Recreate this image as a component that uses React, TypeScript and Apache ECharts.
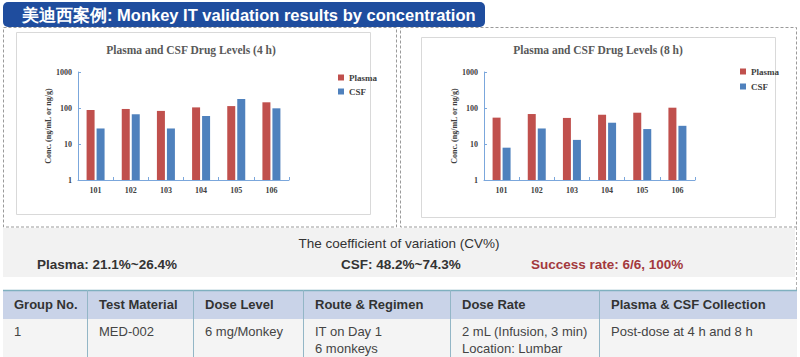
import React, { useEffect, useRef } from "react";
import * as echarts from "echarts";

const categories = ["101", "102", "103", "104", "105", "106"];
const plasma4h = [88, 94, 83, 104, 113, 144];
const csf4h = [27, 67, 27, 60, 178, 98];
const plasma8h = [54, 68, 53, 65, 74, 102];
const csf8h = [7.9, 27, 13, 39, 26, 32];
const yTicks = ["1", "10", "100", "1000"];
const tableHeaders = ["Group No.", "Test Material", "Dose Level", "Route & Regimen", "Dose Rate", "Plasma & CSF Collection"];
const tableRow1 = ["1", "MED-002", "6 mg/Monkey", "IT on Day 1", "2 mL (Infusion, 3 min)", "Post-dose at 4 h and 8 h"];
const tableRow2 = ["", "", "", "6 monkeys", "Location: Lumbar", ""];

const RED = "#c0504d";
const BLUE = "#4f81bd";
const AXIS = "#7ba7dc";
const SERIF = '"Liberation Serif", "Times New Roman", serif';
const SANS = '"Liberation Sans", Arial, sans-serif';

export default function App() {
  const ref = useRef<HTMLDivElement>(null);
  useEffect(() => {
    if (!ref.current) return;
    const chart = echarts.init(ref.current, undefined, { renderer: "svg" });

    const grids = [
      { left: 78, top: 72, width: 211, height: 108 },
      { left: 484, top: 72, width: 211, height: 108 },
    ];
    const xAxis = grids.map((_, i) => ({
      type: "category" as const,
      gridIndex: i,
      data: categories,
      axisLine: { lineStyle: { color: AXIS, width: 1 } },
      axisTick: { show: true, inside: true, length: 3, lineStyle: { color: AXIS } },
      axisLabel: { color: "#404040", fontFamily: SERIF, fontWeight: "bold", fontSize: 8, margin: 6 },
    }));
    const yAxis = grids.map((_, i) => ({
      type: "log" as const,
      gridIndex: i,
      logBase: 10,
      min: 1,
      max: 1000,
      name: "Conc. (ng/mL or ng/g)",
      nameLocation: "middle" as const,
      nameRotate: 90,
      nameGap: 24,
      nameTextStyle: { color: "#404040", fontFamily: SERIF, fontWeight: "bold", fontSize: 8 },
      axisLine: { show: true, lineStyle: { color: AXIS, width: 1 } },
      axisTick: { show: true, inside: true, length: 3, lineStyle: { color: AXIS } },
      splitLine: { show: false },
      axisLabel: {
        color: "#404040",
        fontFamily: SERIF,
        fontWeight: "bold",
        fontSize: 8,
        margin: 6,
        formatter: (v: number) => yTicks[Math.round(Math.log10(v))] ?? String(v),
      },
    }));

    const legendText = { color: "#404040", fontFamily: SERIF, fontWeight: "bold" as const, fontSize: 9, lineHeight: 11 };
    const legends = [
      { left: 333, top: 67, orient: "vertical" as const, icon: "rect", itemWidth: 6, itemHeight: 6, itemGap: 3, textStyle: legendText, data: ["Plasma", "CSF"] },
      { left: 735, top: 61, orient: "vertical" as const, icon: "rect", itemWidth: 6, itemHeight: 6, itemGap: 4, textStyle: legendText, data: ["Plasma", "CSF"] },
    ];

    const bar = (name: string, data: number[], idx: number, color: string) => ({
      type: "bar" as const,
      name,
      data,
      xAxisIndex: idx,
      yAxisIndex: idx,
      barWidth: 8,
      barGap: "25%",
      itemStyle: { color },
    });

    const colX = [3, 87, 193, 303, 450, 599];
    const colTextX = [14, 99, 205, 315, 462, 611];

    const graphic: any[] = [];
    // banner
    graphic.push({ type: "rect", z: -1, shape: { x: 3, y: 2, width: 482, height: 25, r: 5 }, style: { fill: "#1f4d9e" } });
    graphic.push({ type: "text", z: 10, x: 22, y: 15, style: { text: "美迪西案例: Monkey IT validation results by concentration", font: `bold 16.5px ${SANS}`, fill: "#ffffff", verticalAlign: "middle", align: "left" } });
    // dashed boxes
    graphic.push({ type: "rect", z: -2, shape: { x: 3.5, y: 27.5, width: 393, height: 199.5 }, style: { fill: "none", stroke: "#9a9a9a", lineWidth: 1, lineDash: [3, 2] } });
    graphic.push({ type: "rect", z: -2, shape: { x: 400.5, y: 27.5, width: 396, height: 199.5 }, style: { fill: "none", stroke: "#9a9a9a", lineWidth: 1, lineDash: [3, 2] } });
    graphic.push({ type: "line", z: -2, shape: { x1: 796.5, y1: 227, x2: 796.5, y2: 290 }, style: { stroke: "#b0b0b0", lineWidth: 1, lineDash: [3, 2] } });
    // inner white boxes
    graphic.push({ type: "rect", z: -1, shape: { x: 16.5, y: 32.5, width: 354, height: 182 }, style: { fill: "#ffffff", stroke: "#d9d9d9", lineWidth: 1 } });
    graphic.push({ type: "rect", z: -1, shape: { x: 421.5, y: 37.5, width: 354, height: 180 }, style: { fill: "#ffffff", stroke: "#d9d9d9", lineWidth: 1 } });
    // chart titles
    graphic.push({ type: "text", z: 10, x: 191, y: 50, style: { text: "Plasma and CSF Drug Levels (4 h)", font: `bold 11.5px ${SERIF}`, fill: "#595959", align: "center", verticalAlign: "middle" } });
    graphic.push({ type: "text", z: 10, x: 598, y: 50, style: { text: "Plasma and CSF Drug Levels (8 h)", font: `bold 11.5px ${SERIF}`, fill: "#595959", align: "center", verticalAlign: "middle" } });
    // CV band
    graphic.push({ type: "rect", z: -1, shape: { x: 3, y: 228, width: 792, height: 49 }, style: { fill: "#f2f2f2" } });
    graphic.push({ type: "text", z: 10, x: 399, y: 243, style: { text: "The coefficient of variation (CV%)", font: `13.5px ${SANS}`, fill: "#333333", align: "center", verticalAlign: "middle" } });
    graphic.push({ type: "text", z: 10, x: 37, y: 264, style: { text: "Plasma: 21.1%~26.4%", font: `bold 13.5px ${SANS}`, fill: "#333333", align: "left", verticalAlign: "middle" } });
    graphic.push({ type: "text", z: 10, x: 341, y: 264, style: { text: "CSF: 48.2%~74.3%", font: `bold 13.5px ${SANS}`, fill: "#333333", align: "left", verticalAlign: "middle" } });
    graphic.push({ type: "text", z: 10, x: 531, y: 264, style: { text: "Success rate: 6/6, 100%", font: `bold 13.5px ${SANS}`, fill: "#a3393d", align: "left", verticalAlign: "middle" } });
    // table
    graphic.push({ type: "rect", z: -1, shape: { x: 3, y: 290, width: 794, height: 29 }, style: { fill: "#c9d3e8" } });
    graphic.push({ type: "rect", z: -1, shape: { x: 3, y: 319, width: 794, height: 38 }, style: { fill: "#f4f4f4" } });
    graphic.push({ type: "line", z: 5, shape: { x1: 3, y1: 290.5, x2: 797, y2: 290.5 }, style: { stroke: "#7fb0bf", lineWidth: 1.5 } });
    colX.slice(1).forEach((x) => {
      graphic.push({ type: "line", z: 5, shape: { x1: x + 0.5, y1: 290, x2: x + 0.5, y2: 357 }, style: { stroke: "#93b6c6", lineWidth: 1 } });
    });
    tableHeaders.forEach((t, i) => {
      graphic.push({ type: "text", z: 10, x: colTextX[i], y: 304, style: { text: t, font: `bold 13px ${SANS}`, fill: "#333333", align: "left", verticalAlign: "middle" } });
    });
    tableRow1.forEach((t, i) => {
      if (!t) return;
      graphic.push({ type: "text", z: 10, x: colTextX[i], y: 331, style: { text: t, font: `13px ${SANS}`, fill: "#444444", align: "left", verticalAlign: "middle" } });
    });
    tableRow2.forEach((t, i) => {
      if (!t) return;
      graphic.push({ type: "text", z: 10, x: colTextX[i], y: 348, style: { text: t, font: `13px ${SANS}`, fill: "#444444", align: "left", verticalAlign: "middle" } });
    });

    chart.setOption({
      animation: false,
      backgroundColor: "#ffffff",
      grid: grids,
      xAxis,
      yAxis,
      legend: legends,
      series: [
        bar("Plasma", plasma4h, 0, RED),
        bar("CSF", csf4h, 0, BLUE),
        bar("Plasma", plasma8h, 1, RED),
        bar("CSF", csf8h, 1, BLUE),
      ],
      graphic: { elements: graphic },
    });
    return () => chart.dispose();
  }, []);
  return <div ref={ref} style={{ position: "absolute", left: 0, top: 0, width: 800, height: 357 }} />;
}
